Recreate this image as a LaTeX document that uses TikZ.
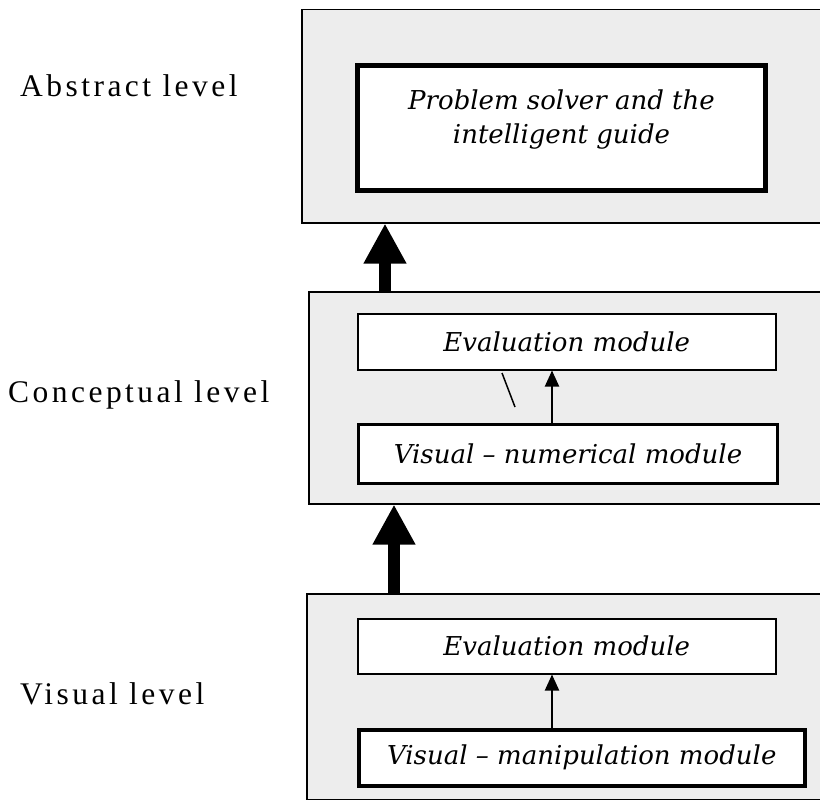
\documentclass[tikz,border=0pt]{standalone}
\usepackage{fontspec}
\setmainfont{Liberation Serif}
\newfontfamily\levelfont[LetterSpace=11]{Liberation Serif}
\newfontfamily\modfont{DejaVu Serif}
\usetikzlibrary{arrows.meta,positioning}

\begin{document}
\begin{tikzpicture}[x=1pt,y=-1pt,
  level/.style={draw,line width=1.5pt,fill=black!7,anchor=north west,inner sep=0pt,minimum width=530pt,minimum height=#1},
  module/.style={draw,fill=white,anchor=north west,inner sep=0pt,align=center,font=\modfont\itshape\fontsize{26}{34}\selectfont},
  levellabel/.style={anchor=base west,inner sep=0pt,font=\levelfont\fontsize{31.5}{36}\selectfont},
  bigarrow/.style={line width=12pt,-{Triangle[length=40pt,width=40pt]}},
  smallarrow/.style={line width=2pt,-{Triangle[length=16pt,width=14pt]}}]
\useasboundingbox (0,0) rectangle (820,800);
\clip (0,0) rectangle (820,800);
\node[level=213pt] (abstract) at (301,9) {};
\node[level=212pt] (conceptual) at (308,291) {};
\node[level=206pt] (visual) at (306,593) {};
\node[module,line width=5pt,minimum width=408pt,minimum height=125pt,text depth=22pt] (guide) at (355,63) {Problem solver and the\\intelligent guide};
\node[module,line width=1.5pt,minimum width=418pt,minimum height=56pt] (evalc) at (357,313) {Evaluation module};
\node[module,line width=3pt,minimum width=419pt,minimum height=59pt] (numeric) at (357,423) {Visual \textendash{} numerical module};
\node[module,line width=1.5pt,minimum width=418pt,minimum height=55pt] (evalv) at (357,618) {Evaluation module};
\node[module,line width=3.5pt,minimum width=446pt,minimum height=56pt] (manip) at (357,728) {Visual \textendash{} manipulation module};
\node[levellabel] (abslabel) at (20,96) {Abstract level};
\node[levellabel] (conlabel) at (8,402) {Conceptual level};
\node[levellabel] (vislabel) at (20,704) {Visual level};
\coordinate (up1) at (385,0);
\coordinate (up2) at (394,0);
\coordinate (up3) at (552,0);
\draw[bigarrow] (conceptual.north -| up1) -- (abstract.south -| up1);
\draw[bigarrow] (visual.north -| up2) -- (conceptual.south -| up2);
\draw[smallarrow] (numeric.north -| up3) -- (evalc.south -| up3);
\draw[smallarrow] (manip.north -| up3) -- (evalv.south -| up3);
\draw[line width=1.5pt] (502,373) -- (515,407);
\end{tikzpicture}
\end{document}
